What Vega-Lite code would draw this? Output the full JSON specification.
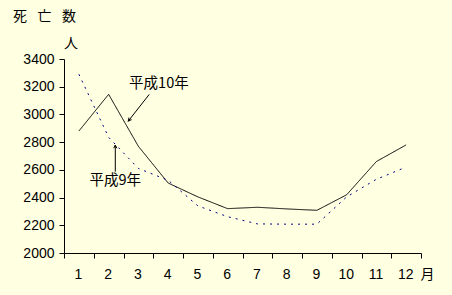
{
  "$schema": "https://vega.github.io/schema/vega-lite/v6.json",
  "width": 357,
  "height": 194,
  "autosize": {"type": "none"},
  "padding": {"left": 64, "top": 59, "right": 31, "bottom": 42},
  "background": "#FFFFE1",
  "config": {
    "view": {"stroke": null},
    "axis": {
      "domainColor": "#000000",
      "tickColor": "#000000",
      "tickSize": 5,
      "grid": false,
      "labelColor": "#000000",
      "labelFont": "Liberation Sans",
      "labelFontSize": 14,
      "labelOverlap": false,
      "labelFlush": false,
      "titleColor": "#000000",
      "titleFont": "Noto Sans CJK JP",
      "titleFontSize": 14,
      "titleFontWeight": "normal"
    }
  },
  "title": {
    "text": "死\u2002\u2005亡\u2002\u2005数",
    "anchor": "start",
    "frame": "group",
    "dx": -51,
    "offset": 13,
    "font": "Noto Sans CJK JP",
    "fontSize": 14,
    "fontWeight": "normal",
    "color": "#000000"
  },
  "datasets": {
    "deaths": [
      {"series": "平成10年", "month": 1, "deaths": 2880},
      {"series": "平成10年", "month": 2, "deaths": 3145},
      {"series": "平成10年", "month": 3, "deaths": 2770},
      {"series": "平成10年", "month": 4, "deaths": 2505},
      {"series": "平成10年", "month": 5, "deaths": 2405},
      {"series": "平成10年", "month": 6, "deaths": 2320},
      {"series": "平成10年", "month": 7, "deaths": 2330},
      {"series": "平成10年", "month": 8, "deaths": 2318},
      {"series": "平成10年", "month": 9, "deaths": 2308},
      {"series": "平成10年", "month": 10, "deaths": 2420},
      {"series": "平成10年", "month": 11, "deaths": 2660},
      {"series": "平成10年", "month": 12, "deaths": 2780},
      {"series": "平成9年", "month": 1, "deaths": 3290},
      {"series": "平成9年", "month": 2, "deaths": 2835},
      {"series": "平成9年", "month": 3, "deaths": 2610},
      {"series": "平成9年", "month": 4, "deaths": 2525},
      {"series": "平成9年", "month": 5, "deaths": 2340},
      {"series": "平成9年", "month": 6, "deaths": 2262},
      {"series": "平成9年", "month": 7, "deaths": 2210},
      {"series": "平成9年", "month": 8, "deaths": 2208},
      {"series": "平成9年", "month": 9, "deaths": 2208},
      {"series": "平成9年", "month": 10, "deaths": 2405},
      {"series": "平成9年", "month": 11, "deaths": 2532},
      {"series": "平成9年", "month": 12, "deaths": 2620}
    ],
    "labels": [
      {"series": "平成10年", "month": 3.69, "deaths": 3222, "text": "平成10年"},
      {"series": "平成9年", "month": 2.22, "deaths": 2520, "text": "平成9年"}
    ],
    "arrows": [
      {"series": "平成10年", "month": 3.367, "deaths": 3145, "month2": 2.661, "deaths2": 2952},
      {"series": "平成9年", "month": 2.224, "deaths": 2587, "month2": 2.224, "deaths2": 2779}
    ],
    "heads": [
      {"series": "平成10年", "month": 2.661, "deaths": 2952},
      {"series": "平成9年", "month": 2.224, "deaths": 2779}
    ]
  },
  "encoding": {
    "x": {
      "field": "month",
      "type": "quantitative",
      "scale": {"domain": [0.5, 12.5], "nice": false, "zero": false},
      "axis": {
        "values": [0.5, 1.5, 2.5, 3.5, 4.5, 5.5, 6.5, 7.5, 8.5, 9.5, 10.5, 11.5, 12.5],
        "labelExpr": "datum.value < 12 ? format(datum.value + 0.5, 'd') : ''",
        "labelOffset": 14,
        "labelPadding": 9,
        "labelOverlap": false,
        "title": "月",
        "titleX": 363,
        "titleY": 21,
        "titleAlign": "center",
        "titleBaseline": "middle"
      }
    },
    "y": {
      "field": "deaths",
      "type": "quantitative",
      "scale": {"domain": [2000, 3400], "nice": false, "zero": false},
      "axis": {
        "values": [2000, 2200, 2400, 2600, 2800, 3000, 3200, 3400],
        "format": "d",
        "labelPadding": 5,
        "labelOverlap": false,
        "title": "人",
        "titleAngle": 0,
        "titleX": 6.5,
        "titleY": -15.5,
        "titleAlign": "center",
        "titleBaseline": "middle"
      }
    }
  },
  "layer": [
    {
      "data": {"name": "deaths"},
      "mark": {"type": "line", "strokeWidth": 1},
      "encoding": {
        "color": {
          "field": "series",
          "type": "nominal",
          "scale": {"domain": ["平成10年", "平成9年"], "range": ["#000000", "#000080"]},
          "legend": null
        },
        "strokeDash": {
          "field": "series",
          "type": "nominal",
          "scale": {"domain": ["平成10年", "平成9年"], "range": [[1, 0], [2, 5]]},
          "legend": null
        }
      }
    },
    {
      "data": {"name": "arrows"},
      "mark": {"type": "rule", "color": "#000000", "strokeWidth": 1},
      "encoding": {
        "x2": {"field": "month2"},
        "y2": {"field": "deaths2"}
      }
    },
    {
      "data": {"name": "heads"},
      "transform": [{"filter": "datum.series == '平成10年'"}],
      "mark": {"type": "point", "shape": "M-0.5,1L0,0L0.5,1", "filled": false, "stroke": "#000000", "strokeWidth": 1, "size": 40, "angle": 218, "opacity": 1}
    },
    {
      "data": {"name": "heads"},
      "transform": [{"filter": "datum.series == '平成9年'"}],
      "mark": {"type": "point", "shape": "M-0.5,1L0,0L0.5,1", "filled": false, "stroke": "#000000", "strokeWidth": 1, "size": 40, "angle": 0, "opacity": 1}
    },
    {
      "data": {"name": "labels"},
      "mark": {"type": "text", "font": "Noto Sans CJK JP", "fontSize": 14.5, "color": "#000000", "align": "center", "baseline": "middle"},
      "encoding": {
        "text": {"field": "text"}
      }
    }
  ]
}
